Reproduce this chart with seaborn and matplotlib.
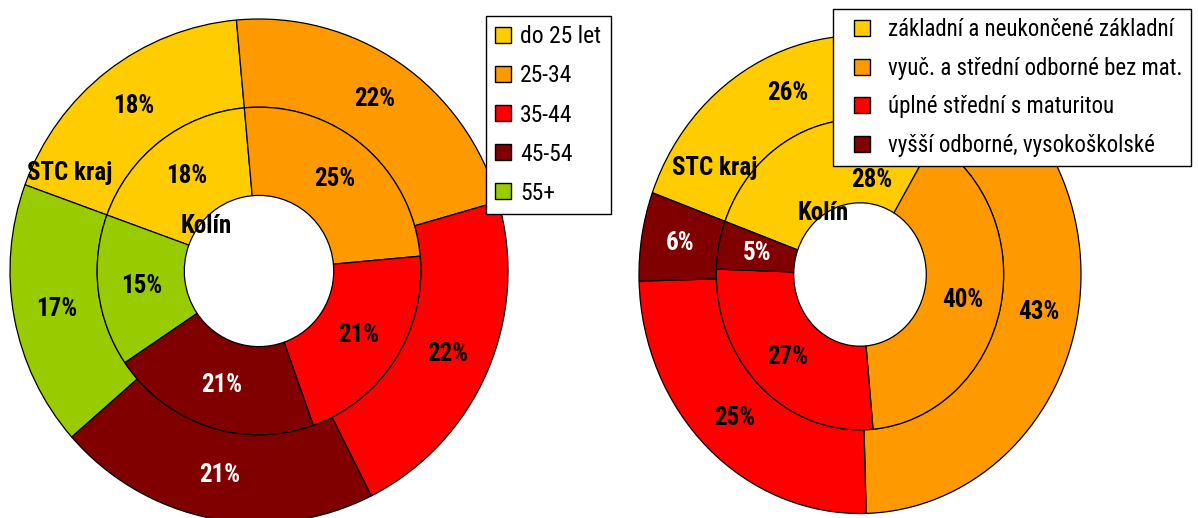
import matplotlib
matplotlib.use("Agg")
import matplotlib.pyplot as plt
from matplotlib import font_manager as fm
from matplotlib.lines import Line2D
import seaborn as sns

# age structure (left donut) - inner ring Kolín, outer ring STC kraj
age_groups = ["do 25 let", "25-34", "35-44", "45-54", "55+"]
age_kolin = [18, 25, 21, 21, 15]
age_stc = [18, 22, 22, 21, 17]

# education (right donut)
edu_groups = [
    "základní a neukončené základní",
    "vyuč. a střední odborné bez mat.",
    "úplné střední s maturitou",
    "vyšší odborné, vysokoškolské",
]
edu_kolin = [28, 40, 27, 5]
edu_stc = [26, 43, 25, 6]

age_colors = ["#FFCC00", "#FF9900", "#FF0000", "#800000", "#99CC00"]
edu_colors = age_colors[:4]
DARK = "#800000"

sns.set_style("white")
plt.rcParams["text.color"] = "black"

# narrow sans like Arial Narrow, whatever is installed
installed = {f.name for f in fm.fontManager.ttflist}
narrow = [n for n in ["Liberation Sans Narrow", "Arial Narrow", "Nimbus Sans Narrow",
                      "Roboto Condensed", "PT Sans Narrow", "Archivo Narrow"] if n in installed]
if narrow:
    plt.rcParams["font.family"] = [narrow[0], "DejaVu Sans"]
else:
    plt.rcParams["font.family"] = ["DejaVu Sans"]
    plt.rcParams["font.stretch"] = "condensed"

W, H = 1198, 518
fig = plt.figure(figsize=(W / 100, H / 100), dpi=100)
PAD = 1.08
RING = 0.35


def donut_axes(cx, cy, rx, ry):
    return fig.add_axes([(cx - rx * PAD) / W, (H - cy - ry * PAD) / H,
                         2 * rx * PAD / W, 2 * ry * PAD / H])


def draw_donut(ax, inner, outer, colors):
    texts = []
    for vals, radius in ((outer, 1.0), (inner, 1.0 - RING)):
        _, _, autotexts = ax.pie(
            vals, colors=colors, radius=radius, startangle=160, counterclock=False,
            autopct="%.0f%%", pctdistance=(radius - RING / 2) / radius,
            wedgeprops=dict(width=RING, edgecolor="black", linewidth=0.9),
            textprops=dict(fontsize=18, fontweight="bold"),
        )
        for t, c in zip(autotexts, colors):
            t.set_color("white" if c == DARK else "black")
        texts.append(autotexts)
    ax.set_aspect("auto")
    ax.set_xlim(-PAD, PAD)
    ax.set_ylim(-PAD, PAD)
    ax.axis("off")
    return texts


def make_legend(labels, colors, anchor, size, hl, htp, lsp):
    handles = [Line2D([], [], linestyle="none", marker="s", markersize=11.5,
                      markerfacecolor=c, markeredgecolor="black", markeredgewidth=1)
               for c in colors]
    leg = fig.legend(handles, labels, loc="upper left",
                     bbox_to_anchor=(anchor[0] / W, 1 - anchor[1] / H),
                     frameon=True, fancybox=False, framealpha=1, edgecolor="black",
                     fontsize=size, handlelength=hl, handletextpad=htp,
                     labelspacing=lsp, borderpad=0.4, borderaxespad=0)
    leg.get_frame().set_linewidth(1.0)
    return leg


ax1 = donut_axes(259, 271, 249, 252)
draw_donut(ax1, age_kolin, age_stc, age_colors)
ax1.text(-0.76, 0.39, "STC kraj", ha="center", va="center", fontsize=18, fontweight="bold")
ax1.text(-0.21, 0.18, "Kolín", ha="center", va="center", fontsize=18, fontweight="bold")

ax2 = donut_axes(860, 274.5, 221, 239)
outer_t, inner_t = draw_donut(ax2, edu_kolin, edu_stc, edu_colors)
inner_t[0].set_position((0.054, 0.395))
ax2.text(-0.656, 0.446, "STC kraj", ha="center", va="center", fontsize=18, fontweight="bold")
ax2.text(-0.167, 0.257, "Kolín", ha="center", va="center", fontsize=18, fontweight="bold")

make_legend(age_groups, age_colors, (486, 16), 17, 0.64, 0.4, 0.68)
make_legend(edu_groups, edu_colors, (833, 9), 16.5, 1.75, 0.24, 0.68)

fig.savefig("out.png", dpi=100, facecolor="white")
